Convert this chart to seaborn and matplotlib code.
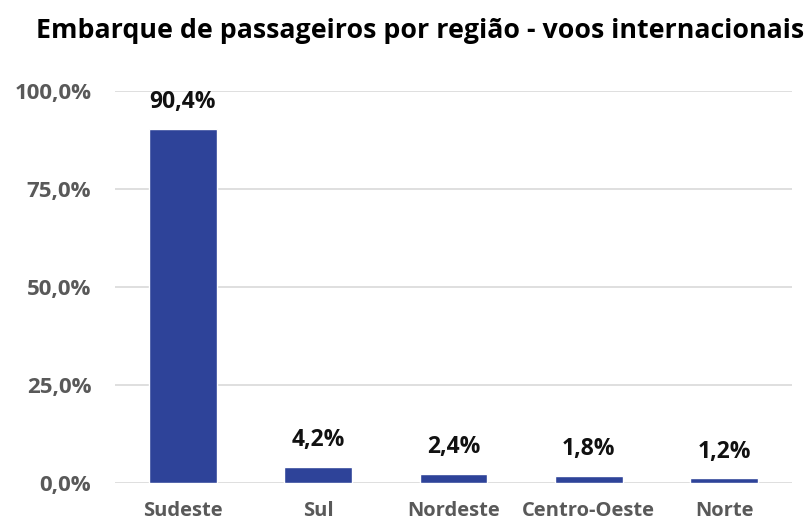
import matplotlib
matplotlib.use("Agg")
import matplotlib.pyplot as plt
import seaborn as sns
import pandas as pd
from matplotlib.ticker import FuncFormatter

# data
regioes = ["Sudeste", "Sul", "Nordeste", "Centro-Oeste", "Norte"]
percentuais = [90.4, 4.2, 2.4, 1.8, 1.2]
yticks = [0, 25, 50, 75, 100]

df = pd.DataFrame({"regiao": regioes, "pct": percentuais})

sns.set_style("white")
plt.rcParams["font.family"] = ["Open Sans", "DejaVu Sans"]

fig = plt.figure(figsize=(8.08, 5.21), dpi=100)
ax = fig.add_axes([0.1423, 0.0729, 0.8377, 0.7524])

sns.barplot(data=df, x="regiao", y="pct", color="#2E4399", width=0.5,
            saturation=1, ax=ax, zorder=3)

ax.set_ylim(0, 100)
ax.set_yticks(yticks)
ax.yaxis.set_major_formatter(FuncFormatter(lambda v, p: f"{v:.1f}%".replace(".", ",")))
ax.grid(axis="y", color="#D9D9D9", linewidth=1.2, zorder=0)
ax.set_axisbelow(True)
for s in ax.spines.values():
    s.set_visible(False)
ax.set_xlabel("")
ax.set_ylabel("")
ax.tick_params(axis="both", length=0, colors="#595959")
ax.tick_params(axis="y", pad=17, labelsize=16)
ax.tick_params(axis="x", pad=13, labelsize=14.5)
for lab in ax.get_xticklabels() + ax.get_yticklabels():
    lab.set_fontweight("bold")

for i, v in enumerate(percentuais):
    ax.annotate(f"{v:.1f}%".replace(".", ","), (i, v), xytext=(0, 10.5),
                textcoords="offset points", ha="center", va="bottom",
                fontsize=16.5, fontweight="bold", color="#111111")

fig.text(0.52, 0.94, "Embarque de passageiros por região - voos internacionais",
         ha="center", va="center", fontsize=19.3, fontweight="bold", color="black")

fig.savefig("out.png", dpi=100)
